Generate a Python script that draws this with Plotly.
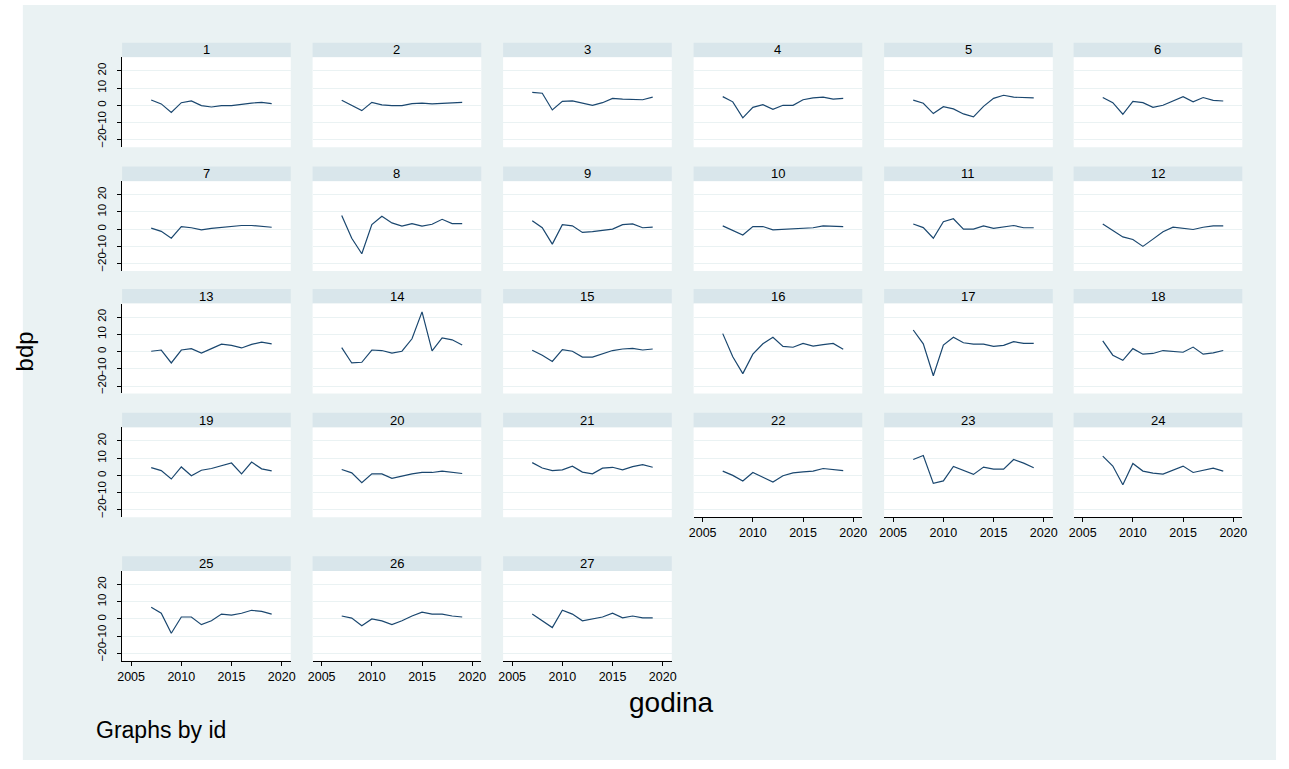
import plotly.graph_objects as go

W, H = 1289, 769

years = list(range(2007, 2020))
ids = [str(i) for i in range(1, 28)]

bdp_1 = [3.1, 0.8, -4.2, 1.5, 2.5, -0.2, -1.0, -0.2, -0.2, 0.6, 1.3, 1.7, 1.0]
bdp_2 = [2.9, 0.0, -3.1, 1.7, 0.2, -0.2, -0.2, 1.0, 1.3, 0.8, 1.0, 1.3, 1.7]
bdp_3 = [7.5, 7.0, -2.7, 2.3, 2.5, 1.3, 0.0, 1.5, 4.0, 3.6, 3.2, 3.2, 4.7]
bdp_4 = [5.0, 2.0, -7.3, -1.2, 0.4, -2.3, 0.0, 0.0, 3.2, 4.3, 4.7, 3.6, 4.0]
bdp_5 = [3.0, 1.2, -4.8, -0.8, -2.1, -5.0, -6.7, -0.6, 4.0, 5.8, 4.7, 4.3, 4.3]
bdp_6 = [4.5, 1.5, -5.2, 2.3, 1.5, -1.2, 0.0, 2.3, 5.0, 2.0, 4.5, 2.9, 2.5]
bdp_7 = [0.6, -1.3, -5.3, 1.5, 0.8, -0.4, 0.4, 1.1, 1.5, 2.1, 2.1, 1.5, 1.1]
bdp_8 = [7.9, -5.3, -14.3, 2.6, 7.5, 3.6, 1.7, 3.2, 1.7, 2.8, 5.7, 3.2, 3.2]
bdp_9 = [4.9, 0.8, -8.7, 2.6, 1.9, -1.9, -1.5, -0.9, 0.0, 2.6, 3.0, 0.8, 1.1]
bdp_10 = [1.9, -0.6, -3.4, 1.5, 1.5, -0.4, 0.0, 0.4, 0.8, 0.8, 1.9, 1.5, 1.5]
bdp_11 = [3.0, 0.9, -5.3, 4.3, 6.0, 0.0, 0.0, 1.9, 0.4, 1.3, 2.1, 0.8, 0.8]
bdp_12 = [3.0, -0.8, -4.5, -6.0, -10.0, -5.8, -1.5, 1.1, 0.6, -0.2, 1.1, 1.9, 1.9]
bdp_13 = [0.2, 0.9, -6.6, 0.9, 1.7, -0.9, 1.7, 4.3, 3.6, 2.1, 4.2, 5.5, 4.5]
bdp_14 = [2.3, -6.6, -6.2, 0.9, 0.6, -0.9, 0.2, 7.4, 23.0, 0.4, 7.9, 6.8, 3.8]
bdp_15 = [0.8, -2.1, -5.7, 1.1, 0.2, -3.2, -3.2, -1.3, 0.6, 1.5, 1.9, 0.9, 1.5]
bdp_16 = [10.4, -3.0, -12.8, -1.5, 4.5, 8.3, 3.0, 2.5, 4.7, 3.2, 4.0, 4.7, 1.3]
bdp_17 = [12.5, 4.5, -14.0, 3.8, 8.3, 5.1, 4.3, 4.3, 3.0, 3.6, 5.7, 4.7, 4.7]
bdp_18 = [6.2, -2.1, -5.1, 1.7, -1.5, -1.1, 0.6, 0.0, -0.4, 2.6, -1.5, -0.8, 0.6]
bdp_19 = [4.5, 2.8, -2.1, 4.9, -0.2, 3.0, 4.0, 5.8, 7.2, 0.9, 7.7, 3.8, 2.6]
bdp_20 = [3.4, 1.5, -4.2, 0.9, 0.9, -1.7, -0.4, 0.9, 1.7, 1.7, 2.5, 1.7, 1.1]
bdp_21 = [7.4, 4.3, 2.8, 3.2, 5.3, 1.9, 0.9, 4.2, 4.7, 3.2, 5.1, 6.2, 4.7]
bdp_22 = [2.5, 0.0, -3.2, 1.7, -1.1, -3.8, -0.2, 1.5, 2.1, 2.5, 4.0, 3.4, 2.8]
bdp_23 = [9.2, 11.5, -4.6, -3.2, 5.2, 2.7, 0.6, 4.8, 3.6, 3.6, 9.2, 7.1, 4.4]
bdp_24 = [11.2, 5.4, -5.4, 6.9, 2.5, 1.3, 0.8, 3.1, 5.4, 1.7, 2.9, 4.2, 2.5]
bdp_25 = [6.7, 3.3, -8.3, 1.1, 1.1, -3.3, -1.1, 2.8, 2.2, 3.3, 5.0, 4.4, 2.8]
bdp_26 = [1.7, 0.5, -3.9, 0.0, -1.1, -3.3, -1.1, 1.7, 3.9, 2.8, 2.8, 1.7, 1.1]
bdp_27 = [2.8, -1.1, -5.0, 5.0, 2.8, -1.1, 0.0, 1.1, 3.3, 0.6, 1.7, 0.6, 0.6]

series = [bdp_1, bdp_2, bdp_3, bdp_4, bdp_5, bdp_6, bdp_7, bdp_8, bdp_9,
          bdp_10, bdp_11, bdp_12, bdp_13, bdp_14, bdp_15, bdp_16, bdp_17,
          bdp_18, bdp_19, bdp_20, bdp_21, bdp_22, bdp_23, bdp_24, bdp_25,
          bdp_26, bdp_27]

y_ticks = [-20, -10, 0, 10, 20]
x_ticks = [2005, 2010, 2015, 2020]

BG = "#eaf2f3"
STRIP = "#d9e6eb"
LINE = "#1a476f"
GRID = "#eaf2f3"
FONT = "Liberation Sans, Arial, sans-serif"

col_left = [118, 310, 502, 694, 886, 1077]
col_w = 170
strip_top = [42.7, 166.7, 289.3, 413.3, 557.0]
strip_h = 14.7
plot_h = 90.0

fig = go.Figure()
shapes = []
annotations = []
layout = {}

n = len(series)
for i, vals in enumerate(series):
    r, c = divmod(i, 6)
    k = i + 1
    xa = "x" if k == 1 else f"x{k}"
    ya = "y" if k == 1 else f"y{k}"
    fig.add_trace(go.Scatter(x=years, y=vals, mode="lines",
                             line=dict(color=LINE, width=1.2),
                             xaxis=xa, yaxis=ya, showlegend=False,
                             hoverinfo="skip"))
    x0 = col_left[c] / W
    x1 = (col_left[c] + col_w) / W
    top = strip_top[r] + strip_h
    bot = top + plot_h
    y0 = 1 - bot / H
    y1 = 1 - top / H
    show_x = (i + 6 >= n)
    show_y = (c == 0)
    layout["xaxis" if k == 1 else f"xaxis{k}"] = dict(
        domain=[x0, x1], anchor=ya, range=[2004.1, 2020.9],
        showgrid=False, zeroline=False,
        showline=show_x, linecolor="#000000", linewidth=1,
        ticks="outside" if show_x else "", ticklen=4, tickcolor="#000000",
        tickvals=x_ticks, showticklabels=show_x,
        tickfont=dict(family=FONT, size=12.5, color="#000000"),
        fixedrange=True)
    layout["yaxis" if k == 1 else f"yaxis{k}"] = dict(
        domain=[y0, y1], anchor=xa, range=[-24.3, 27.8],
        showgrid=True, gridcolor=GRID, gridwidth=1, zeroline=False,
        showline=show_y, linecolor="#000000", linewidth=1,
        ticks="outside" if show_y else "", ticklen=4, tickcolor="#000000",
        tickvals=y_ticks, showticklabels=show_y, tickangle=-90,
        ticklabelstandoff=6,
        tickfont=dict(family=FONT, size=11.5, color="#000000"),
        fixedrange=True)
    shapes.append(dict(type="rect", xref="paper", yref="paper",
                       x0=x0, x1=x1, y0=1 - (strip_top[r] + strip_h) / H,
                       y1=1 - strip_top[r] / H,
                       fillcolor=STRIP, line=dict(width=0), layer="below"))
    annotations.append(dict(text=ids[i], xref="paper", yref="paper",
                            x=(x0 + x1) / 2,
                            y=1 - (strip_top[r] + strip_h / 2) / H,
                            xanchor="center", yanchor="middle", showarrow=False,
                            font=dict(family=FONT, size=13, color="#000000")))
    shapes.append(dict(type="rect", xref="paper", yref="paper",
                       x0=x0, x1=x1, y0=y0, y1=y1,
                       fillcolor="#ffffff", line=dict(width=0), layer="below"))

shapes.insert(0, dict(type="rect", xref="paper", yref="paper",
                      x0=18 / W, x1=1281 / W, y0=1 - 761 / H, y1=1 - 5 / H,
                      fillcolor=BG, line=dict(width=0), layer="below"))

annotations.append(dict(text="bdp", xref="paper", yref="paper",
                        x=20 / W, y=1 - 352 / H, textangle=-90,
                        xanchor="center", yanchor="middle", showarrow=False,
                        font=dict(family=FONT, size=24, color="#000000")))
annotations.append(dict(text="godina", xref="paper", yref="paper",
                        x=672 / W, y=1 - 703 / H,
                        xanchor="center", yanchor="middle", showarrow=False,
                        font=dict(family=FONT, size=28, color="#000000")))
annotations.append(dict(text="Graphs by id", xref="paper", yref="paper",
                        x=90 / W, y=1 - 731 / H,
                        xanchor="left", yanchor="middle", showarrow=False,
                        font=dict(family=FONT, size=23, color="#000000")))

fig.update_layout(**layout)
fig.update_layout(width=W, height=H, autosize=False,
                  margin=dict(l=0, r=0, t=0, b=0),
                  paper_bgcolor="#ffffff", plot_bgcolor="rgba(0,0,0,0)",
                  shapes=shapes, annotations=annotations)

fig.write_html("out.html", config={"displayModeBar": False},
               post_script="document.body.style.margin='0px';"
                           "document.body.style.overflow='hidden';")
